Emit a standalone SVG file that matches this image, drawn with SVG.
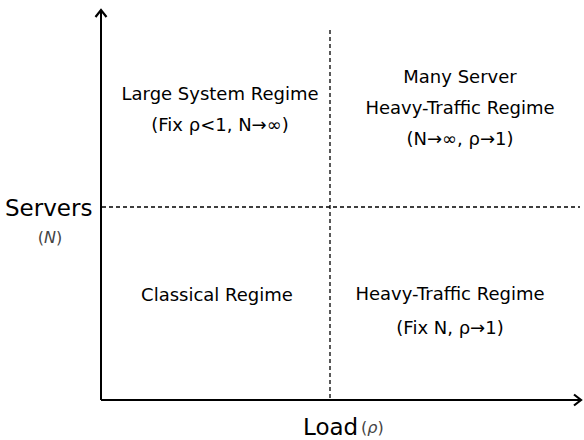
<svg xmlns="http://www.w3.org/2000/svg" width="584" height="440" viewBox="0 0 584 440">
<defs>
<marker id="arr" markerWidth="14" markerHeight="14" refX="10" refY="7" orient="auto" markerUnits="userSpaceOnUse">
<path d="M3,1.5 L10,7 L3,12.5" fill="none" stroke="#000" stroke-width="2.2"/>
</marker>
<style>
.t{font-family:"DejaVu Sans",Verdana,sans-serif;font-size:18px;fill:#000;text-anchor:middle}
.big{font-family:"DejaVu Sans",Verdana,sans-serif;font-size:23px;fill:#000}
.g{font-family:"DejaVu Sans",Verdana,sans-serif;font-size:16px;fill:#444}
.d{stroke:#000;stroke-width:1.3;stroke-dasharray:4,3;fill:none}
</style>
</defs>
<rect width="584" height="440" fill="#fff"/>
<g id="connectors">
<line x1="101" y1="400" x2="101" y2="10" stroke="#000" stroke-width="2" marker-end="url(#arr)"/>
<line x1="101" y1="400" x2="581" y2="400" stroke="#000" stroke-width="2" marker-end="url(#arr)"/>
<line class="d" x1="330" y1="30" x2="330" y2="399"/>
<line class="d" x1="102" y1="207" x2="580" y2="207"/>
</g>
<g id="large-system">
<text class="t" x="220" y="100">Large System Regime</text>
<text class="t" x="220" y="131">(Fix ρ&lt;1, N→∞)</text>
</g>
<g id="many-server">
<text class="t" x="460" y="83">Many Server</text>
<text class="t" x="460" y="114">Heavy-Traffic Regime</text>
<text class="t" x="460" y="145">(N→∞, ρ→1)</text>
</g>
<g id="classical">
<text class="t" x="217" y="301">Classical Regime</text>
</g>
<g id="heavy-traffic">
<text class="t" x="450" y="300">Heavy-Traffic Regime</text>
<text class="t" x="450" y="334">(Fix N, ρ→1)</text>
</g>
<g id="y-label">
<text class="big" x="5" y="216">Servers</text>
<text class="g" x="50" y="243" text-anchor="middle">(<tspan font-style="italic">N</tspan>)</text>
</g>
<g id="x-label">
<text class="big" x="303" y="435">Load</text>
<text class="g" x="361" y="433">(<tspan font-style="italic">ρ</tspan>)</text>
</g>
</svg>
